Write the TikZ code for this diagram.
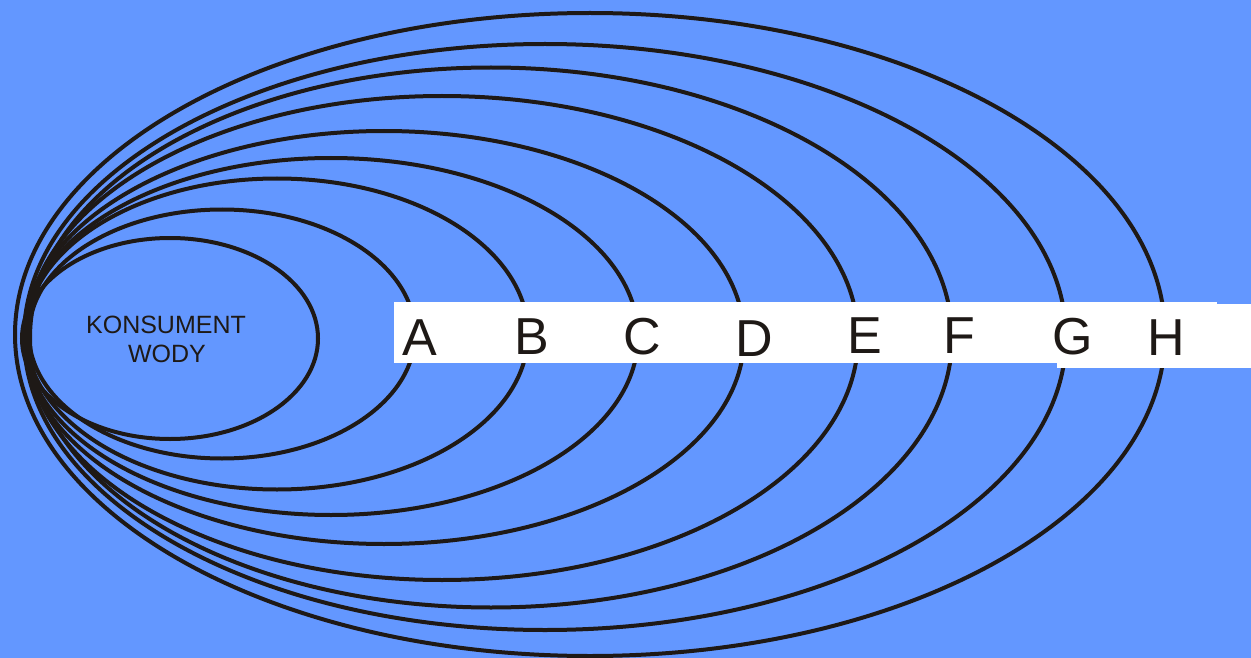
\documentclass[tikz,border=0pt]{standalone}
\usepackage{fontspec}
\setmainfont{Liberation Sans}
\definecolor{bgblue}{RGB}{99,151,255}
\definecolor{ink}{RGB}{30,25,22}
\begin{document}
\begin{tikzpicture}[x=1pt,y=-1pt,
  ring/.style={draw=ink,line width=4pt},
  letter/.style={anchor=base,inner sep=0pt,text=ink,font=\fontsize{52}{52}\selectfont},
  caption/.style={anchor=base,inner sep=0pt,text=ink,font=\fontsize{25}{28}\selectfont}]
\useasboundingbox (0,0) rectangle (1251,658);
\fill[bgblue] (0,0) rectangle (1251,658);
% nested ellipses (centre x, centre y, x radius, y radius)
\foreach \cx/\cy/\rx/\ry in {170/338.5/148/100.5, 222/334/193/124.5, 277/334/251/155.5,
  331/336.5/307/178.5, 384/337.5/360/206.5, 442/338/416/242, 491/337.5/461/270,
  545/337/521/293, 590/334.5/575/321.5}
  \draw[ring] (\cx,\cy) ellipse [x radius=\rx pt, y radius=\ry pt];
% white label band
\fill[white] (394,302) rectangle (1217,363);
\fill[white] (1057,303.5) rectangle (1251,368);
% labels
\node[letter] (A) at (420,355) {A};
\node[letter] (B) at (532,354) {B};
\node[letter] (C) at (642,354) {C};
\node[letter] (D) at (754,356) {D};
\node[letter] (E) at (865,353) {E};
\node[letter] (F) at (959,353) {F};
\node[letter] (G) at (1073,354) {G};
\node[letter] (H) at (1166,355) {H};
\node[caption] (k1) at (166,333) {KONSUMENT};
\node[caption] (k2) at (167,362) {WODY};
\end{tikzpicture}
\end{document}
